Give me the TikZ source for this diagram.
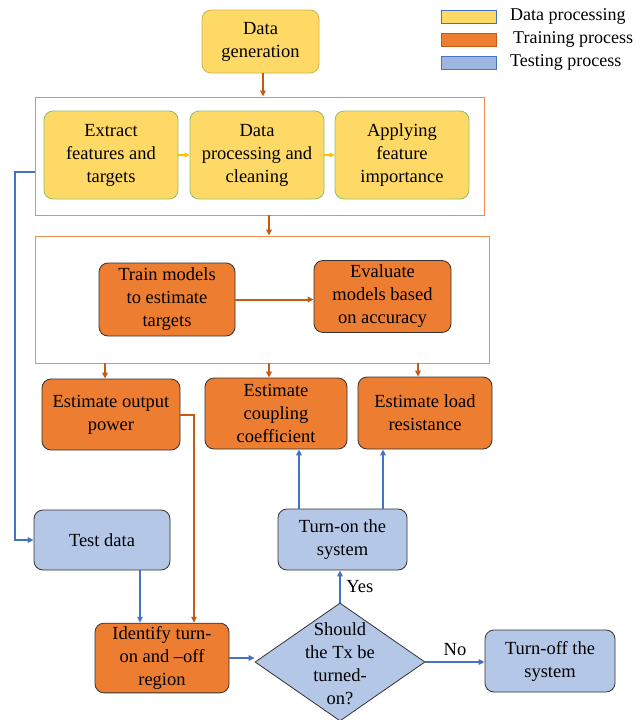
\documentclass[tikz,border=0pt]{standalone}
\usepackage{fontspec}
\setmainfont{Liberation Serif}
\usetikzlibrary{shapes.geometric,arrows.meta}
\definecolor{yel}{HTML}{FFD966}
\definecolor{yelB}{HTML}{BF9000}
\definecolor{org}{HTML}{ED7D31}
\definecolor{orgL}{HTML}{C55A11}
\definecolor{orgT}{HTML}{F08C50}
\definecolor{blu}{HTML}{B4C7E7}
\definecolor{bluL}{HTML}{4472C4}
\definecolor{grn}{HTML}{8CC06A}
\definecolor{arrY}{HTML}{FFC000}
\tikzset{
  txt/.style={font=\fontsize{18.5}{23}\selectfont, align=center, text=black},
  ybox/.style={txt, draw=grn, fill=yel, rounded corners=9pt, line width=0.8pt},
  obox/.style={txt, draw=black!80, fill=org, rounded corners=9pt, line width=0.8pt},
  bbox/.style={txt, draw=black!80, fill=blu, rounded corners=9pt, line width=0.8pt},
  frame/.style={draw=orgT, line width=0.9pt},
  oarr/.style={draw=orgL, line width=2pt, -{Triangle[length=6pt,width=5.5pt]}},
  barr/.style={draw=bluL, line width=2pt, -{Triangle[length=6pt,width=5.5pt]}},
  yarr/.style={draw=arrY, line width=1.6pt, -{Triangle[length=5pt,width=5pt]}},
  leg/.style={font=\fontsize{18}{20}\selectfont, anchor=west, inner sep=0pt}
}
\begin{document}
\begin{tikzpicture}[x=1pt,y=-1pt]
\useasboundingbox (0,0) rectangle (640,720);
% legend
\draw[draw=bluL, fill=yel, line width=0.9pt] (441,10) rectangle (496,23);
\draw[draw=orgL, fill=org, line width=0.9pt] (441,33) rectangle (496,46);
\draw[draw=bluL, fill=blu!80!bluL, line width=0.9pt] (441,56) rectangle (496,69);
\node[leg] (l1) at (510,16) {Data processing};
\node[leg] (l2) at (513,39) {Training process};
\node[leg] (l3) at (510,62) {Testing process};
% frames
\node[frame, minimum width=449, minimum height=118, inner sep=0] (box1) at (259.5,156) {};
\node[frame, minimum width=454, minimum height=127, inner sep=0] (box2) at (262,299.5) {};
% nodes
\node[ybox, draw=yelB!70, minimum width=117, minimum height=63] (gen) at (260.5,41.5) {Data\\generation};
\node[ybox, minimum width=134, minimum height=88] (ext) at (111,155) {Extract\\features and\\targets};
\node[ybox, minimum width=134, minimum height=88] (dpc) at (257,155) {Data\\processing and\\cleaning};
\node[ybox, minimum width=134, minimum height=88] (app) at (402,155) {Applying\\feature\\importance};
\node[obox, minimum width=136, minimum height=73] (train) at (167,299.5) {Train models\\to estimate\\targets};
\node[obox, minimum width=137, minimum height=72] (eval) at (382.5,296.5) {Evaluate\\models based\\on accuracy};
\node[obox, minimum width=138, minimum height=71] (eop) at (111,414.5) {Estimate output\\power};
\node[obox, minimum width=142, minimum height=71] (ecc) at (276,413.5) {Estimate\\coupling\\coefficient};
\node[obox, minimum width=134, minimum height=72] (elr) at (425,413) {Estimate load\\resistance};
\node[bbox, minimum width=136, minimum height=60] (test) at (102,540) {Test data};
\node[bbox, minimum width=129, minimum height=61] (ton) at (342.5,539.5) {Turn-on the\\system};
\node[obox, minimum width=134, minimum height=68] (ident) at (162,658) {Identify turn-\\on and –off\\region};
\node[diamond, draw=black!80, fill=blu, line width=0.8pt, minimum width=170, minimum height=118, inner sep=0] (dia) at (340,662) {};
\node[txt] (diat) at (340,664) {Should\\the Tx be\\turned-\\on?};
\node[bbox, minimum width=130, minimum height=62] (toff) at (550,661) {Turn-off the\\system};
% connectors
\draw[oarr] ([xshift=2.5pt]gen.south) -- ([xshift=2.5pt]gen.south |- box1.north);
\draw[yarr] (ext.east) -- (dpc.west);
\draw[yarr] (dpc.east) -- (app.west);
\draw[oarr] ([xshift=9.5pt]box1.south) -- ([xshift=9.5pt]box1.south |- box2.north);
\draw[oarr] (train.east) -- (train.east -| eval.west);
\draw[oarr] ([xshift=-6pt]eop.north |- box2.south) -- ([xshift=-6pt]eop.north);
\draw[oarr] ([xshift=-7pt]ecc.north |- box2.south) -- ([xshift=-7pt]ecc.north);
\draw[oarr] ([xshift=-7pt]elr.north |- box2.south) -- ([xshift=-7pt]elr.north);
\draw[oarr] (eop.east) -| ([xshift=32pt]ident.north);
\draw[barr] ([yshift=-16pt]box1.west) -- ++(-20,0) |- (test.west);
\draw[barr] ([xshift=38pt]test.south) -- ([xshift=38pt]test.south |- ident.north);
\draw[barr] (ident.east) -- (ident.east -| dia.west);
\draw[barr] (dia.east) -- node[txt, above, yshift=2pt] (no) {No} (dia.east -| toff.west);
\draw[barr] (dia.north) -- node[txt, right, xshift=2pt] (yes) {Yes} (dia.north |- ton.south);
\draw[barr] ([xshift=-43.5pt]ton.north) -- ([xshift=-43.5pt]ton.north |- ecc.south);
\draw[barr] ([xshift=40.5pt]ton.north) -- ([xshift=40.5pt]ton.north |- elr.south);
\end{tikzpicture}
\end{document}
